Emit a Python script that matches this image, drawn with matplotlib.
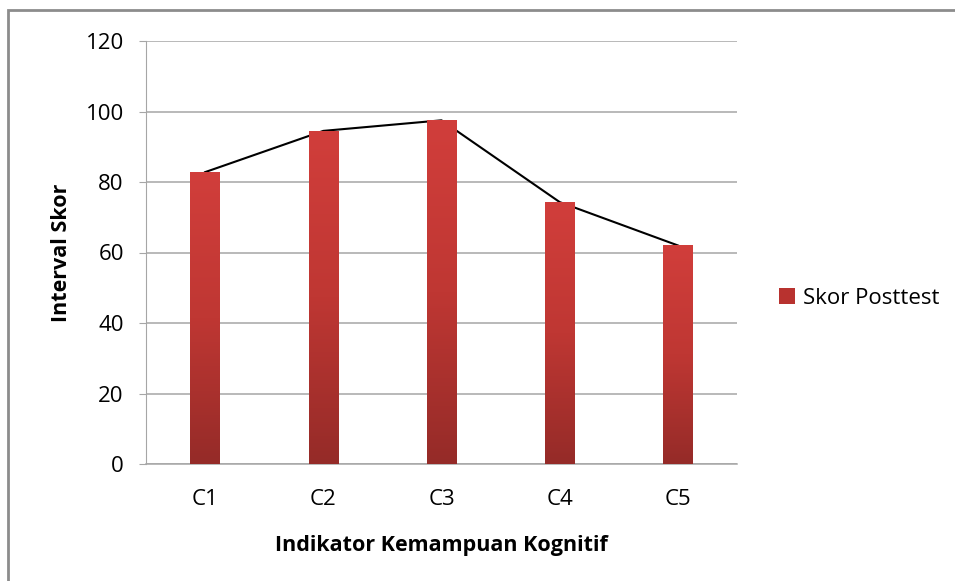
import numpy as np
import matplotlib
matplotlib.use("Agg")
import matplotlib.pyplot as plt
from matplotlib.colors import LinearSegmentedColormap
from matplotlib.patches import Rectangle

# data
categories = ["C1", "C2", "C3", "C4", "C5"]
skor_posttest = [82.8, 94.5, 97.5, 74.3, 62.0]

plt.rcParams['font.family'] = ['Open Sans', 'DejaVu Sans']

fig = plt.figure(figsize=(9.55, 5.81), dpi=100)
ax = fig.add_axes([146/955, 1 - 464/581, 591/955, 423/581])

x = np.arange(len(categories))
bar_w = 0.25

# trend line behind the bars
ax.plot(x, skor_posttest, color="black", lw=1.5, zorder=2)

bars = ax.bar(x, skor_posttest, width=bar_w, color="none", edgecolor="none",
              zorder=3, label="Skor Posttest")

# gradient fill, lighter at top
cmap = LinearSegmentedColormap.from_list("redgrad", ["#952B28", "#BF3733", "#D13E3B"])
grad = np.linspace(0, 1, 256).reshape(-1, 1)
for b in bars:
    x0, y0 = b.get_x(), b.get_y()
    w, h = b.get_width(), b.get_height()
    im = ax.imshow(grad, cmap=cmap, origin="lower", aspect="auto",
                   extent=[x0, x0 + w, y0, y0 + h], zorder=3)
    im.set_clip_path(b)

ax.set_xlim(-0.5, 4.5)
ax.set_ylim(0, 120)
ax.set_yticks(range(0, 121, 20))
ax.set_xticks(x)
ax.set_xticklabels(categories)
ax.yaxis.grid(True, color="#A6A6A6", lw=1.1)
ax.set_axisbelow(True)

for s in ["top", "right"]:
    ax.spines[s].set_visible(False)
ax.spines["left"].set_color("#A6A6A6")
ax.spines["bottom"].set_color("#A6A6A6")
ax.spines["bottom"].set_linewidth(1.1)
ax.tick_params(axis="y", length=5, color="#A6A6A6", labelsize=16, pad=11)
ax.tick_params(axis="x", length=0, labelsize=16, pad=18)

ax.set_ylabel("Interval Skor", fontsize=15.5, fontweight="bold", labelpad=10)
ax.set_xlabel("Indikator Kemampuan Kognitif", fontsize=15.5, fontweight="bold", labelpad=18)

handle = Rectangle((0, 0), 1, 1, facecolor="#B8322F")
ax.legend([handle], ["Skor Posttest"], loc="center left", bbox_to_anchor=(1.071, 0.392),
          frameon=False, fontsize=16, handlelength=0.7, handleheight=0.7,
          handletextpad=0.4, borderaxespad=0, borderpad=0)

# outer chart frame
fig.patches.append(Rectangle((8/955, -0.1), 1.2, 1 - 10/581 + 0.1,
                             transform=fig.transFigure, fill=False,
                             edgecolor="#8C8C8C", lw=2))

fig.savefig("out.png", dpi=100)
